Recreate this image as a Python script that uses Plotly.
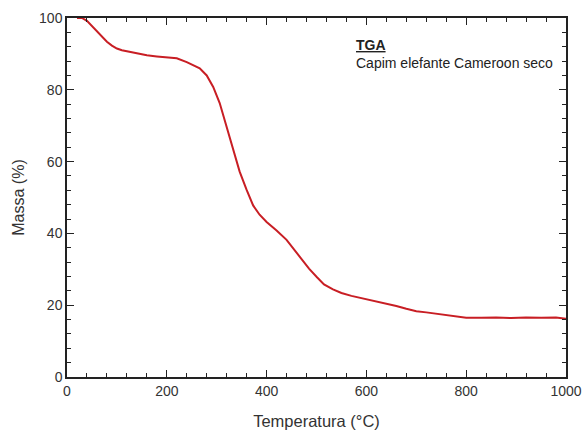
import plotly.graph_objects as go

temp = [20, 30, 40, 50, 60, 70, 80, 90, 100, 110, 120, 130, 140, 160, 180, 200, 220, 240, 255, 266,
        280, 293, 306, 320, 333, 346, 360, 373, 386, 400, 420, 440, 467, 485, 501, 515, 533, 550,
        570, 590, 600, 620, 640, 660, 680, 700, 720, 740, 760, 780, 800, 830, 860, 890, 920, 950, 980, 1000]
massa = [100, 100, 99.2, 97.8, 96.2, 94.8, 93.4, 92.3, 91.5, 91.0, 90.7, 90.3, 90.1, 89.6, 89.3, 89.1, 88.8, 87.7, 86.8, 86.0,
         84.0, 80.8, 76.3, 69.5, 63.2, 57.2, 52.1, 47.8, 45.2, 43.2, 40.8, 38.2, 33.4, 30.2, 27.8, 25.8, 24.4, 23.4,
         22.6, 22.0, 21.6, 21.1, 20.6, 19.8, 19.0, 18.3, 18.0, 17.6, 17.2, 16.8, 16.5, 16.5, 16.6, 16.4, 16.6, 16.5, 16.6, 16.2]

x_ticks = [0, 200, 400, 600, 800, 1000]
y_ticks = [0, 20, 40, 60, 80, 100]

FONT = "Liberation Sans, Arial"

fig = go.Figure()
fig.add_trace(go.Scatter(x=temp, y=massa, mode="lines",
                         line=dict(color="#c81e24", width=2), showlegend=False))

axis_common = dict(showgrid=False, zeroline=False, showline=True, linecolor="#222", linewidth=1.5,
                   mirror="ticks", ticks="inside", ticklen=7, tickwidth=1.2, tickcolor="#222",
                   automargin=False,
                   tickfont=dict(family=FONT, size=14, color="#333"))

fig.update_xaxes(range=[0, 1000], tickvals=x_ticks, ticktext=[str(v) for v in x_ticks],
                 minor=dict(dtick=40, ticks="inside", ticklen=4, tickcolor="#222"),
                 title=dict(text="Temperatura (°C)", font=dict(family=FONT, size=16.5, color="#333"),
                            standoff=19),
                 **axis_common)
fig.update_yaxes(range=[0, 100], tickvals=y_ticks, ticktext=[str(v) for v in y_ticks],
                 minor=dict(dtick=4, ticks="inside", ticklen=4, tickcolor="#222"),
                 title=dict(text="Massa (%)", font=dict(family=FONT, size=16, color="#333"),
                            standoff=10),
                 **axis_common)

fig.add_annotation(x=0.575, y=0.897, xref="paper", yref="paper", xanchor="left", yanchor="bottom",
                   text="<b><u>TGA</u></b>", showarrow=False,
                   font=dict(family=FONT, size=14, color="#222"))
fig.add_annotation(x=0.575, y=0.902, xref="paper", yref="paper", xanchor="left", yanchor="top",
                   text="Capim elefante Cameroon seco", showarrow=False,
                   font=dict(family=FONT, size=14, color="#222"))

fig.update_layout(width=584, height=430, margin=dict(l=67, r=18, t=18, b=53),
                  plot_bgcolor="white", paper_bgcolor="white")
fig.write_html("out.html")
